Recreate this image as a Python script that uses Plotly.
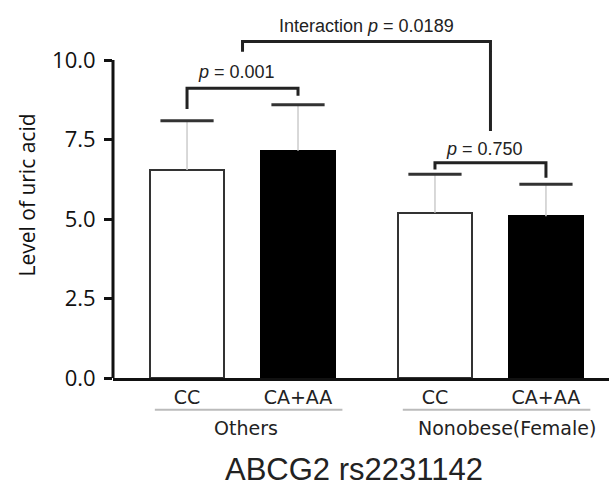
import plotly.graph_objects as go

# ---- data ----
groups = ["Others", "Nonobese(Female)"]
genotypes = ["CC", "CA+AA", "CC", "CA+AA"]
group_of_bar = [0, 0, 1, 1]
means = [6.54, 7.15, 5.20, 5.09]
sds = [1.55, 1.44, 1.21, 1.00]
y_ticks = [0.0, 2.5, 5.0, 7.5, 10.0]
y_tick_labels = ["0.0", "2.5", "5.0", "7.5", "10.0"]
pair_p = ["0.001", "0.750"]
pair_bracket_levels = [(8.46, 9.11, 8.88), (6.56, 6.77, 6.30)]  # left leg bottom, top, right leg bottom
interaction_p = "0.0189"
interaction_levels = (10.26, 10.58, 7.77)
x_title = "ABCG2 rs2231142"
y_title = "Level of uric acid"

# ---- layout helpers ----
GROUP_GAP = 0.234
xpos = [i + g * GROUP_GAP for i, g in enumerate(group_of_bar)]
group_centers = [sum(x for x, g in zip(xpos, group_of_bar) if g == k) / 2 for k in range(2)]
fills = ["white", "black", "white", "black"]
lines = ["#333333", "black", "#333333", "black"]
SANS = "Liberation Sans, Arial"
LBL = "DejaVu Sans"

fig = go.Figure()
fig.add_trace(go.Bar(
    x=xpos, y=means, width=0.667,
    marker=dict(color=fills, line=dict(color=lines, width=2)),
    error_y=dict(type="data", array=sds, arrayminus=[0] * 4, symmetric=False,
                 color="#cccccc", thickness=1.5, width=0),
    showlegend=False, hoverinfo="skip",
))
# error caps
fig.add_trace(go.Scatter(
    x=xpos, y=[m + s for m, s in zip(means, sds)], mode="markers",
    marker=dict(symbol="line-ew", size=38, line=dict(color="#333333", width=3)),
    showlegend=False, hoverinfo="skip", cliponaxis=False,
))

# pair brackets
BR = dict(color="#222222", width=3)
for k in range(2):
    xs = [x for x, g in zip(xpos, group_of_bar) if g == k]
    lb, top, rb = pair_bracket_levels[k]
    fig.add_trace(go.Scatter(x=[xs[0], xs[0], xs[1], xs[1]], y=[lb, top, top, rb],
                             mode="lines", line=BR, showlegend=False, hoverinfo="skip"))
    fig.add_annotation(x=(xs[0] + xs[1]) / 2, y=top, yanchor="bottom",
                       yshift=4 if k == 0 else 2, xshift=-6,
                       text=f"<i>p</i> = {pair_p[k]}", showarrow=False,
                       font=dict(family=SANS, size=18, color="#222222"))
# interaction bracket
lb, top, rb = interaction_levels
fig.add_trace(go.Scatter(x=[group_centers[0], group_centers[0], group_centers[1], group_centers[1]],
                         y=[lb, top, top, rb], mode="lines", line=BR,
                         showlegend=False, hoverinfo="skip"))
fig.add_annotation(x=sum(group_centers) / 2, y=top, yanchor="bottom", yshift=4,
                   text=f"Interaction <i>p</i> = {interaction_p}", showarrow=False,
                   font=dict(family=SANS, size=18, color="#222222"))

# y axis line (only 0..10)
fig.add_shape(type="line", xref="paper", yref="y", x0=0, x1=0, y0=y_ticks[0], y1=y_ticks[-1],
              line=dict(color="#111111", width=3))

# group underlines & labels
for k, name in enumerate(groups):
    xs = [x for x, g in zip(xpos, group_of_bar) if g == k]
    fig.add_shape(type="line", xref="x", yref="paper", x0=xs[0] - 0.29, x1=xs[1] + 0.40,
                  y0=-0.087, y1=-0.087, line=dict(color="#bbbbbb", width=2))
    fig.add_annotation(x=group_centers[k], xref="x", y=-0.137, yref="paper", yanchor="middle",
                       xshift=3 if k == 0 else 17,
                       text=name, showarrow=False,
                       font=dict(family=LBL, size=19, color="#222222"))

fig.add_annotation(x=0.486, xref="paper", y=-0.250, yref="paper", yanchor="middle",
                   text=x_title, showarrow=False,
                   font=dict(family=SANS, size=31, color="#222222"))

fig.update_layout(
    width=609, height=487, plot_bgcolor="white", paper_bgcolor="white",
    margin=dict(l=113, r=0, t=12, b=109),
    bargap=0,
    xaxis=dict(range=[-0.667, 3.802], tickvals=xpos, ticktext=genotypes,
               showline=True, linecolor="#111111", linewidth=3, ticks="",
               showgrid=False, zeroline=False, ticklabelstandoff=0,
               tickfont=dict(family=LBL, size=19, color="#222222")),
    yaxis=dict(range=[0, 11.51], tickvals=y_ticks, ticktext=y_tick_labels,
               showline=False, ticks="outside", ticklen=8, tickwidth=3, tickcolor="#111111",
               showgrid=False, zeroline=False, ticklabelstandoff=4,
               tickfont=dict(family="Open Sans", size=22, color="#111111"),
               title=dict(text=y_title, standoff=10,
                          font=dict(family="Open Sans", size=21, color="#111111"))),
)
fig.write_html("out.html", config={"displayModeBar": False},
               post_script="document.body.style.margin='0';document.body.style.overflow='hidden';")
